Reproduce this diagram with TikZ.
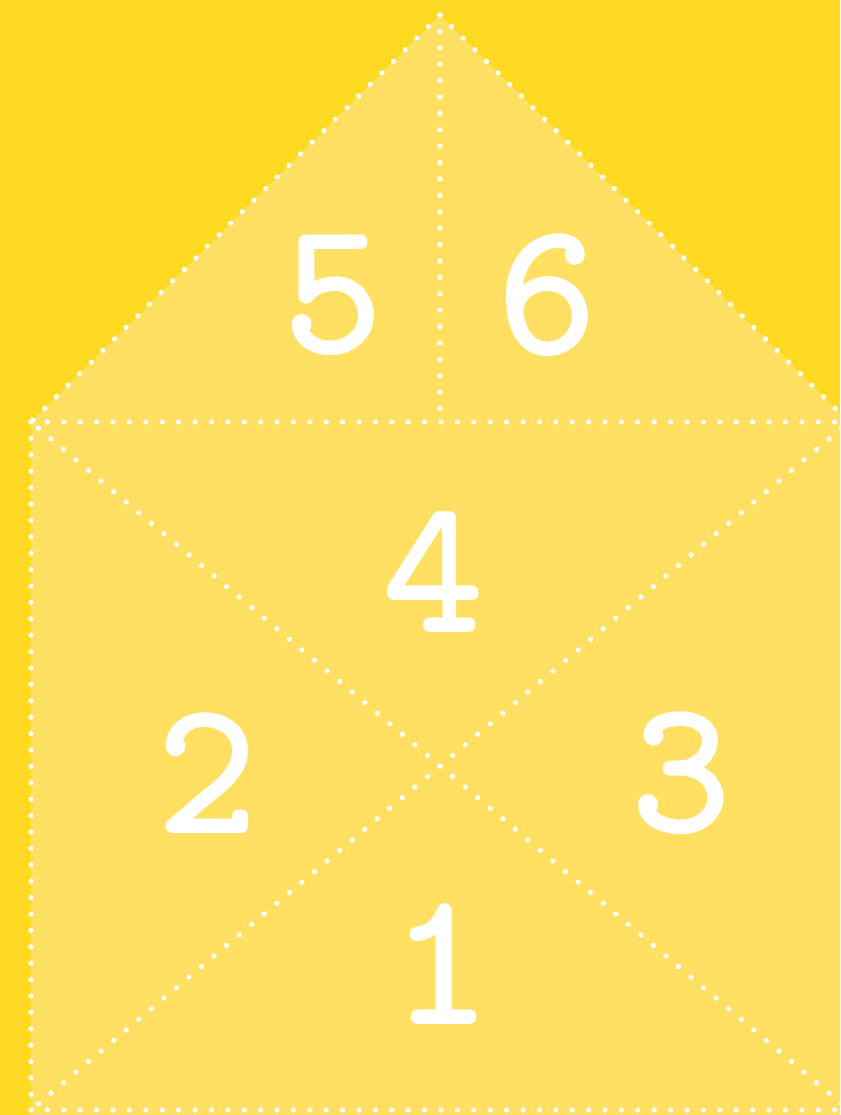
\documentclass[tikz,border=0pt]{standalone}
\usepackage{fontspec}
\begin{document}
\begin{tikzpicture}[x=1pt,y=-1pt,
  dotline/.style={white,line width=5.2pt,line cap=round,dash pattern=on 0pt off 16.4pt},
  digit/.style={text=white,font=\fontsize{194}{194}\selectfont\ttfamily\bfseries,inner sep=0pt}]
\definecolor{bgyel}{HTML}{FFDA22}
\definecolor{houseyel}{HTML}{FFE062}
\useasboundingbox (0,0) rectangle (840,1115);
\clip (0,0) rectangle (840,1115);
\fill[bgyel] (0,0) rectangle (840,1115);
\coordinate (apex) at (440,15);
\coordinate (el) at (31,422);
\coordinate (er) at (849,422);
\coordinate (mid) at (440,422);
\coordinate (bl) at (31,1110);
\coordinate (br) at (849,1110);
\coordinate (ctr) at (440,766);
\fill[houseyel] (31,422) -- (apex) -- (849,422) -- (849,1120) -- (31,1120) -- cycle;
\draw[dotline] (apex) -- (el);
\draw[dotline] (apex) -- (er);
\draw[dotline] (apex) -- (mid);
\draw[dotline] (el) -- (er);
\draw[dotline] (el) -- (bl);
\draw[dotline] (bl) -- (br);
\draw[dotline] (er) -- (br);
\draw[dotline] (ctr) -- (el);
\draw[dotline] (ctr) -- (er);
\draw[dotline] (ctr) -- (bl);
\draw[dotline] (ctr) -- (br);
\node[digit] (d5) at (333,295) {5};
\node[digit] (d6) at (547,295) {6};
\node[digit] (d4) at (433,572) {4};
\node[digit] (d2) at (207,773) {2};
\node[digit] (d3) at (681,773) {3};
\node[digit] (d1) at (441,964) {1};
\end{tikzpicture}
\end{document}
